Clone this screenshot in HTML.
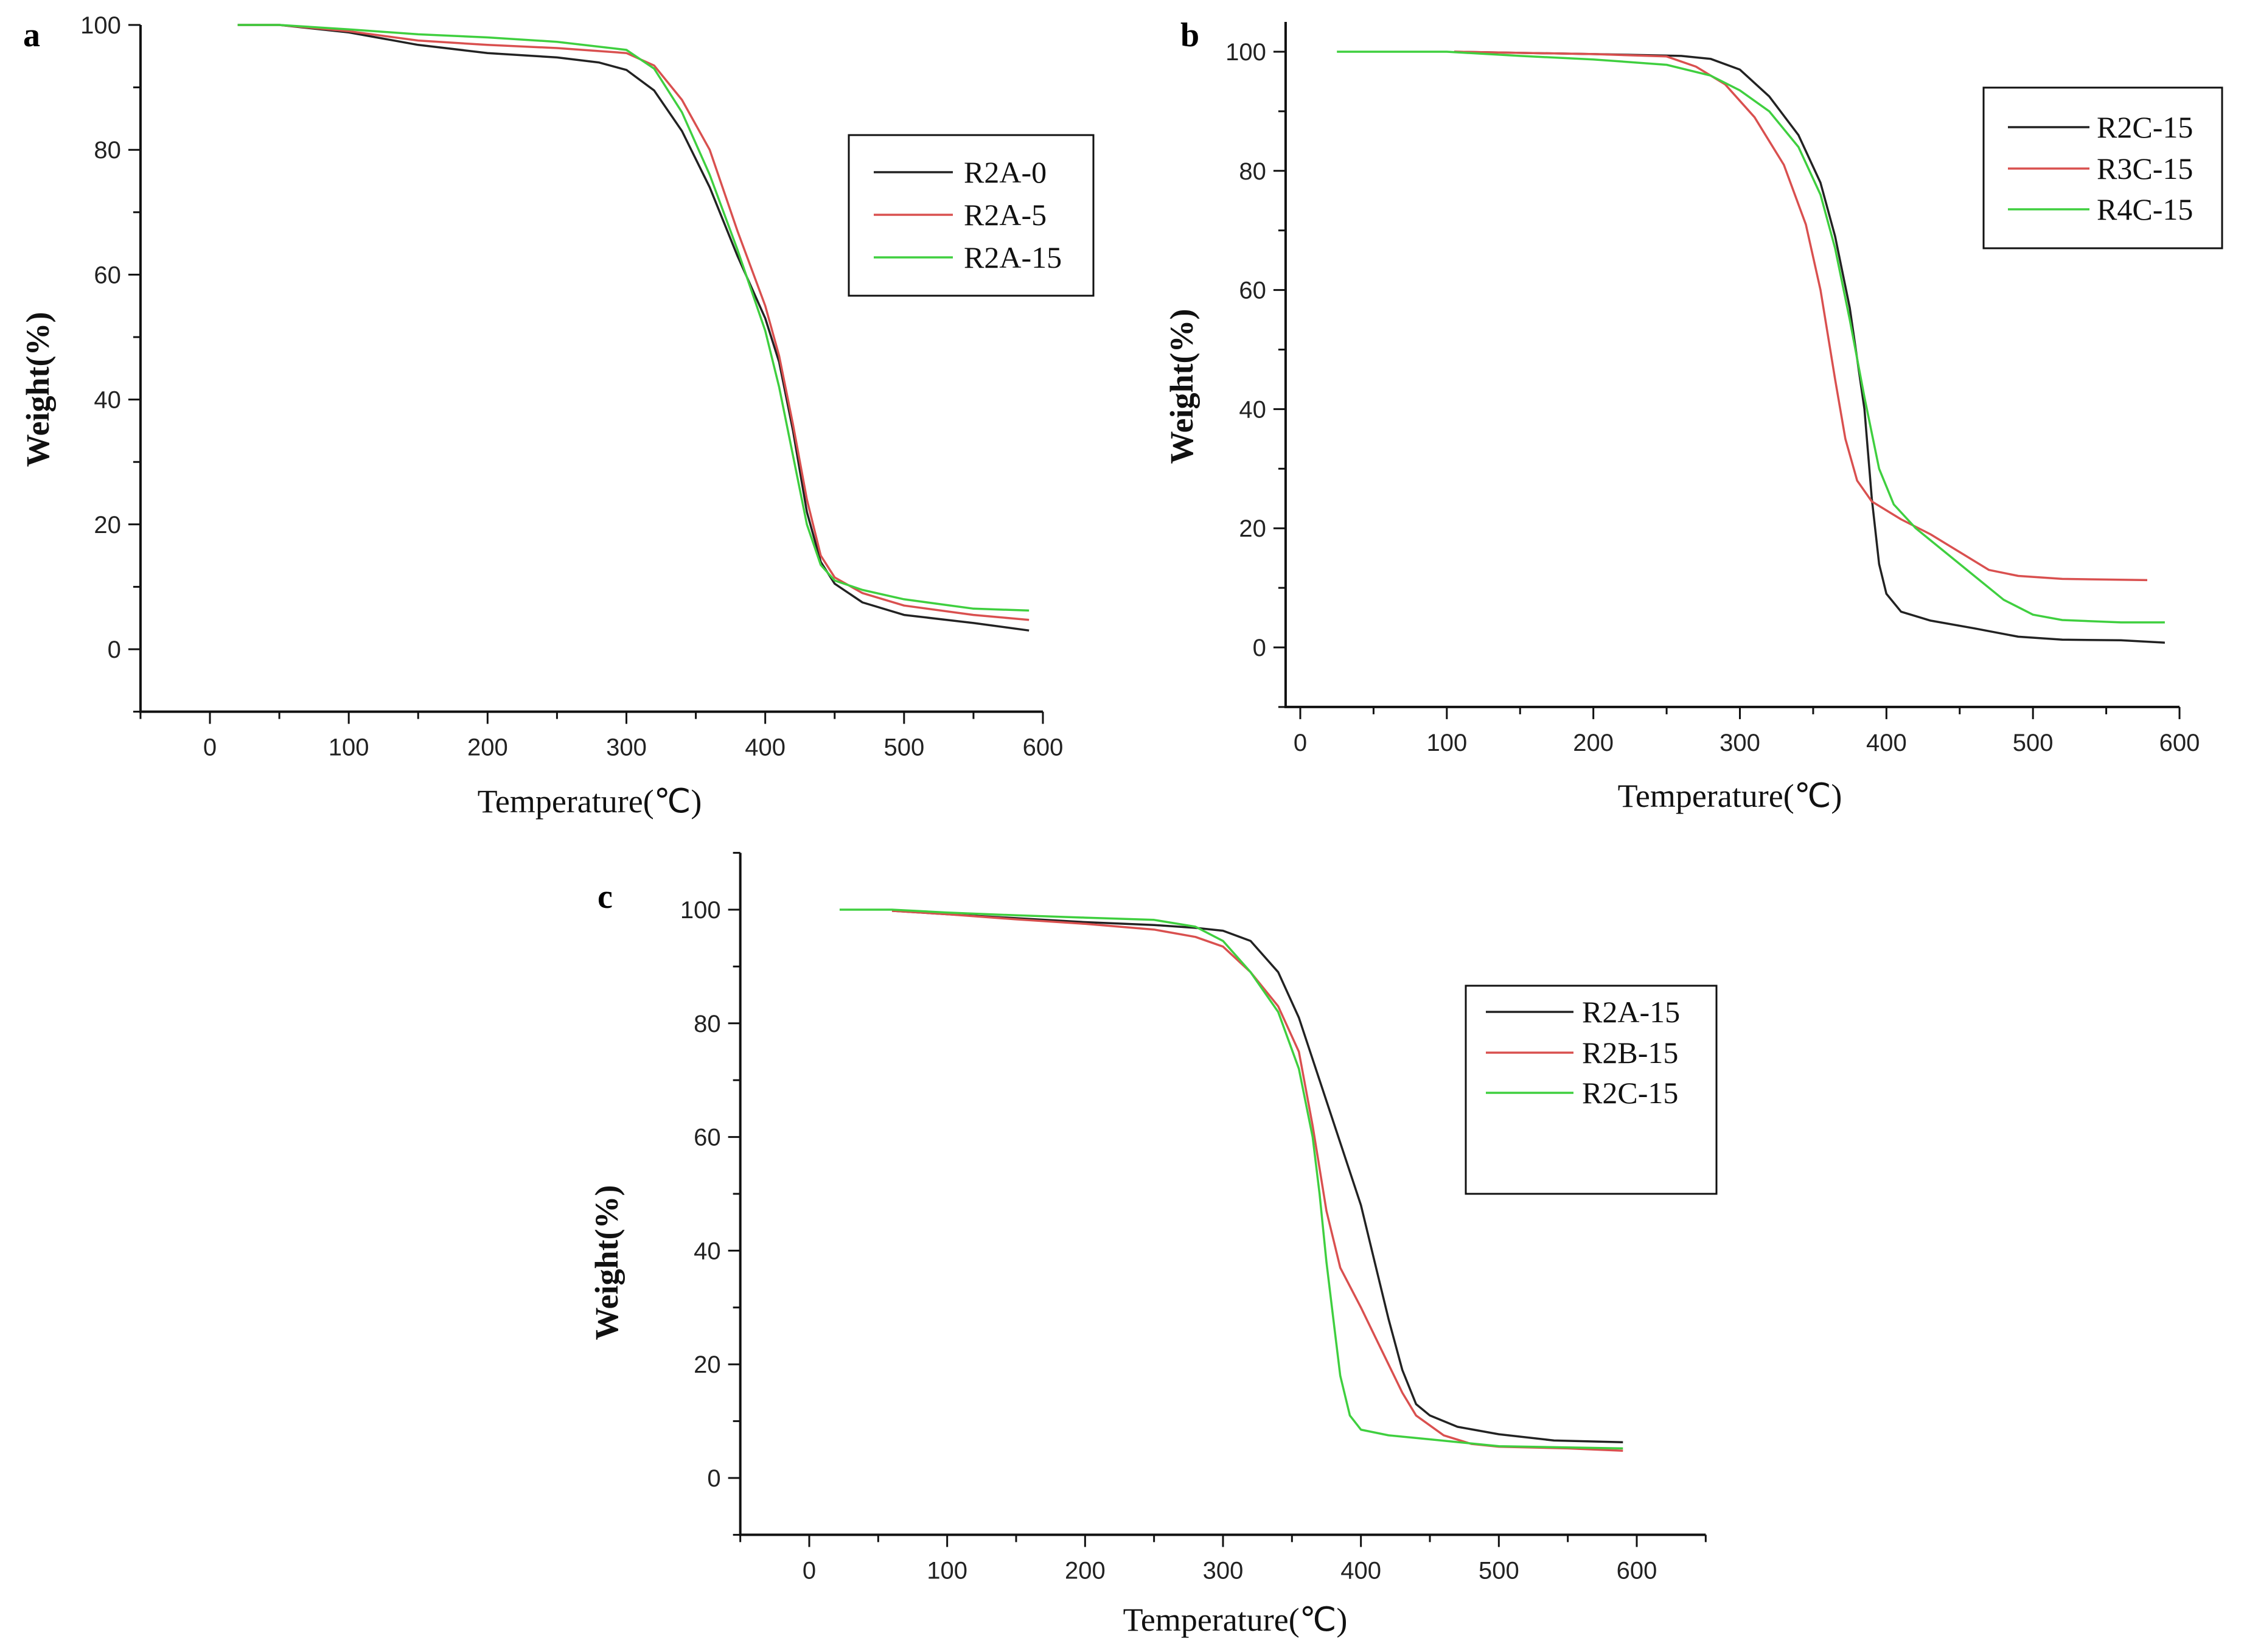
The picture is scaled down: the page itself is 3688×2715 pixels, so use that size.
<!DOCTYPE html>
<html><head><meta charset="utf-8"><style>
html,body{margin:0;padding:0;background:#fff}
svg{display:block}
.tk{font-family:"Liberation Sans",sans-serif;font-size:40px;fill:#222}
.lg{font-family:"Liberation Serif",serif;font-size:50px;fill:#111}
.ttl{font-family:"Liberation Serif",serif;font-size:54px;fill:#111}
.yt{font-family:"Liberation Serif",serif;font-size:54px;font-weight:bold;fill:#111}
.pl{font-family:"Liberation Serif",serif;font-size:56px;font-weight:bold;fill:#000}
</style></head><body>
<svg id="fig" width="3688" height="2715" viewBox="0 0 3688 2715" xmlns="http://www.w3.org/2000/svg"></svg>
<script>
const xTicks=[0,100,200,300,400,500,600];
const yTicks=[0,20,40,60,80,100];
const aNames=["R2A-0","R2A-5","R2A-15"];
const aT0=[20,50,100,150,200,250,280,300,320,340,360,380,400,410,420,430,440,450,470,500,550,590];
const aW0=[100,100,98.8,96.8,95.5,94.8,94,92.8,89.5,83,74,63,53,46,35,22,14,10.5,7.5,5.5,4.2,3];
const aT1=[20,50,100,150,200,250,300,320,340,360,380,400,410,420,430,440,450,470,500,550,590];
const aW1=[100,100,99,97.5,96.8,96.3,95.5,93.5,88,80,67,55,47,36,24,15,11.5,9,7,5.5,4.7];
const aT2=[20,50,100,150,200,250,300,320,340,360,380,400,410,420,430,440,450,470,500,550,590];
const aW2=[100,100,99.3,98.5,98,97.3,96,93,86,76,64,51,42,31,20,13.5,11,9.5,8,6.5,6.2];
const bNames=["R2C-15","R3C-15","R4C-15"];
const bT0=[105,200,260,280,300,320,340,355,365,375,385,390,395,400,410,430,460,490,520,560,590];
const bW0=[100,99.6,99.3,98.8,97,92.5,86,78,69,57,40,25,14,9,6,4.5,3.2,1.8,1.3,1.2,0.8];
const bT1=[105,200,250,270,290,310,330,345,355,365,372,380,390,410,430,450,470,490,520,578];
const bW1=[100,99.6,99.2,97.5,94.5,89,81,71,60,45,35,28,24.5,21.5,19,16,13,12,11.5,11.3];
const bT2=[25,100,150,200,250,280,300,320,340,355,365,375,385,395,405,420,440,460,480,500,520,560,590];
const bW2=[100,100,99.3,98.7,97.8,96,93.5,90,84,76,67,55,42,30,24,20,16,12,8,5.5,4.6,4.2,4.2];
const cNames=["R2A-15","R2B-15","R2C-15"];
const cT0=[60,100,150,200,250,280,300,320,340,355,370,385,400,410,420,430,440,450,470,500,540,590];
const cW0=[99.8,99.2,98.5,97.8,97.3,96.8,96.3,94.5,89,81,70,59,48,38,28,19,13,11,9,7.7,6.6,6.3];
const cT1=[60,100,150,200,250,280,300,320,340,355,365,375,385,400,410,420,430,440,460,480,500,550,590];
const cW1=[99.8,99.2,98.3,97.5,96.5,95.2,93.5,89,83,75,62,47,37,30,25,20,15,11,7.5,6,5.5,5.2,4.8];
const cT2=[22,60,100,150,200,250,280,300,320,340,355,365,370,375,380,385,392,400,420,450,500,590];
const cW2=[100,100,99.5,99,98.6,98.2,97,94.5,89,82,72,60,50,38,28,18,11,8.5,7.5,6.8,5.6,5.2];
const colors=["#222222","#d9504f","#3fcf3f"];
const NS="http://www.w3.org/2000/svg";
const svg=document.getElementById('fig');
function mk(tag,at,parent){const e=document.createElementNS(NS,tag);for(const k in at)e.setAttribute(k,at[k]);(parent||svg).appendChild(e);return e;}
function chart(P){
  const g=mk('g',{});
  
  
  const X=v=>P.x0+(v-0)*(P.x600-P.x0)/600;
  const Y=v=>P.y0+(v-0)*(P.y100-P.y0)/100;
  const L=X(P.xmin),R=X(P.xmax),B=Y(P.ymin),T=Y(P.ymax);
  const ax=mk('path',{d:`M${L} ${T}V${B}H${R}`,stroke:'#111','stroke-width':4,fill:'none'},g);
  
  
  for(let v=Math.ceil(P.xmin/50)*50;v<=P.xmax;v+=50){const maj=v%100===0;mk('line',{x1:X(v),x2:X(v),y1:B,y2:B+(maj?20:12),stroke:'#111','stroke-width':3},g);}
  for(let v=Math.ceil(P.ymin/10)*10;v<=P.ymax;v+=10){const maj=v%20===0;mk('line',{x1:L,x2:L-(maj?20:12),y1:Y(v),y2:Y(v),stroke:'#111','stroke-width':3},g);}
  xTicks.forEach(v=>{const t=mk('text',{x:X(v),y:B+72,'text-anchor':'middle',class:'tk'},g);t.textContent=v;});
  yTicks.forEach(v=>{const t=mk('text',{x:L-32,y:Y(v)+14,'text-anchor':'end',class:'tk'},g);t.textContent=v;});
  P.series.forEach((s,i)=>{
    const pts=s.t.map((t,j)=>X(t).toFixed(1)+','+Y(s.w[j]).toFixed(1)).join(' ');
    const pl=mk('polyline',{points:pts,fill:'none',stroke:colors[i],'stroke-width':3.5,'stroke-linejoin':'round'},g);
    
    
  });
  const lb=P.leg;
  const box=mk('rect',{x:lb.x,y:lb.y,width:lb.w,height:lb.h,fill:'#fff',stroke:'#111','stroke-width':3},g);
  
  
  P.names.forEach((n,i)=>{
    const ry=lb.rows[i];
    mk('line',{x1:lb.lx1,x2:lb.lx2,y1:ry,y2:ry,stroke:colors[i],'stroke-width':3.5},g);
    const t=mk('text',{x:lb.tx,y:ry+17,class:'lg'},g);t.textContent=n;
    
    
  });
  const pl=mk('text',{x:P.lab[0],y:P.lab[1],class:'pl'},g);pl.textContent=P.id;
  
  
  const xt=mk('text',{x:P.xt[0],y:P.xt[1],'text-anchor':'middle',class:'ttl'},g);xt.textContent='Temperature(℃)';
  
  
  const yt=mk('text',{x:P.yt[0],y:P.yt[1],'text-anchor':'middle',class:'yt',transform:`rotate(-90 ${P.yt[0]} ${P.yt[1]})`},g);yt.textContent='Weight(%)';
  
  
}
chart({id:'a',x0:345,x600:1714,y0:1067,y100:41,xmin:-50,xmax:600,ymin:-10,ymax:100,names:aNames,
  series:[{t:aT0,w:aW0},{t:aT1,w:aW1},{t:aT2,w:aW2}],
  leg:{x:1395,y:222,w:402,h:264,rows:[283,353,423],lx1:1436,lx2:1566,tx:1584},
  lab:[38,76],xt:[969,1335],yt:[80,640]});
chart({id:'b',x0:2137,x600:3582,y0:1064,y100:85,xmin:-10,xmax:600,ymin:-10,ymax:105,names:bNames,
  series:[{t:bT0,w:bW0},{t:bT1,w:bW1},{t:bT2,w:bW2}],
  leg:{x:3260,y:144,w:392,h:264,rows:[209,277,344],lx1:3300,lx2:3434,tx:3446},
  lab:[1940,76],xt:[2843,1326],yt:[1960,635]});
chart({id:'c',x0:1330,x600:2690,y0:2429,y100:1495,xmin:-50,xmax:650,ymin:-10,ymax:110,names:cNames,
  series:[{t:cT0,w:cW0},{t:cT1,w:cW1},{t:cT2,w:cW2}],
  leg:{x:2409,y:1620,w:412,h:342,rows:[1663,1730,1796],lx1:2442,lx2:2586,tx:2600},
  lab:[982,1492],xt:[2030,2680],yt:[1015,2075]});
</script>
</body></html>
